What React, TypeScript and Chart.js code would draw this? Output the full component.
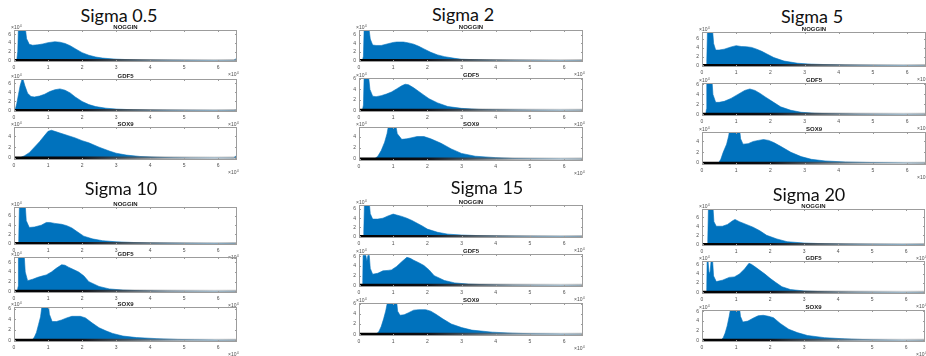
import { useEffect, useRef } from "react";
import { Chart, registerables } from "chart.js";

Chart.register(...registerables);

// Intensity axis runs over the full 16-bit range (x 10^4)
const X_MAX = 6.5535;
const Y_MIN = -0.35;
const X_TICKS = [0, 1, 2, 3, 4, 5, 6];
const Y_TICKS = [0, 2, 4, 6];
const GENES = ["NOGGIN", "GDF5", "SOX9"];
const SIGMAS = ["0.5", "2", "5", "10", "15", "20"];

// Histogram outlines, [intensity x10^4, count x10^4]
const NOGGIN_S05 = [[0, 0], [0.08, 0], [0.11, 2], [0.13, 7.6], [0.33, 7.6], [0.37, 5], [0.45, 3.7], [0.55, 3.5], [0.7, 3.6], [0.85, 3.8], [1.0, 4.1], [1.2, 4.3], [1.35, 4.2], [1.5, 3.9], [1.65, 3.4], [1.8, 2.7], [2.0, 1.8], [2.2, 1.2], [2.4, 0.8], [2.6, 0.55], [3.0, 0.3], [3.5, 0.15], [4.0, 0.08], [5.0, 0.03], [6.45, 0.02], [6.5, 0.3], [6.55, 0.35]];
const GDF5_S05 = [[0, 0], [0.03, 0], [0.08, 1.5], [0.13, 3.5], [0.18, 5.5], [0.23, 6.8], [0.27, 6.8], [0.32, 5.5], [0.4, 3.8], [0.5, 3.1], [0.6, 3.0], [0.75, 3.2], [0.9, 3.6], [1.05, 4.2], [1.2, 4.6], [1.35, 4.8], [1.5, 4.5], [1.65, 3.9], [1.8, 3.0], [2.0, 2.0], [2.2, 1.3], [2.4, 0.85], [2.7, 0.5], [3.0, 0.3], [3.5, 0.15], [4.0, 0.07], [5.0, 0.03], [6.45, 0.02], [6.55, 0.15]];
const SOX9_S05 = [[0, 0], [0.15, 0], [0.3, 0.4], [0.45, 1.0], [0.6, 2.0], [0.75, 3.0], [0.88, 4.0], [1.0, 4.9], [1.1, 5.1], [1.2, 4.9], [1.35, 4.6], [1.6, 4.1], [1.8, 3.7], [2.0, 3.2], [2.2, 2.8], [2.5, 2.0], [2.8, 1.3], [3.0, 0.9], [3.3, 0.55], [3.7, 0.3], [4.2, 0.15], [4.7, 0.06], [5.2, 0.03], [6.45, 0.03], [6.55, 0.5]];

const NOGGIN_S2 = [[0, 0], [0.1, 0], [0.13, 1], [0.15, 7.5], [0.29, 7.5], [0.33, 5], [0.4, 3.6], [0.5, 3.5], [0.65, 3.5], [0.85, 3.9], [1.0, 4.2], [1.1, 4.3], [1.3, 4.3], [1.45, 4.1], [1.6, 3.8], [1.75, 3.3], [1.9, 2.7], [2.1, 1.9], [2.3, 1.3], [2.5, 0.9], [2.8, 0.5], [3.0, 0.3], [3.5, 0.15], [4.0, 0.06], [5.0, 0.02], [6.55, 0.01]];
const GDF5_S2 = [[0, 0], [0.1, 0], [0.13, 1], [0.15, 6.5], [0.28, 6.5], [0.32, 4], [0.4, 2.7], [0.5, 2.6], [0.65, 2.8], [0.8, 3.1], [0.95, 3.5], [1.1, 4.1], [1.25, 4.7], [1.35, 5.0], [1.45, 4.9], [1.6, 4.3], [1.75, 3.6], [1.9, 2.9], [2.05, 2.2], [2.3, 1.4], [2.6, 0.7], [3.0, 0.35], [3.5, 0.15], [4.0, 0.06], [5.0, 0.02], [6.55, 0.01]];
const SOX9_S2 = [[0, 0], [0.45, 0], [0.55, 0.5], [0.65, 1.5], [0.75, 3.0], [0.82, 4.5], [0.87, 6.2], [1.07, 6.2], [1.12, 4.5], [1.25, 3.5], [1.4, 3.6], [1.55, 3.8], [1.7, 4.0], [1.9, 4.0], [2.1, 3.6], [2.4, 2.8], [2.7, 1.8], [3.0, 1.0], [3.4, 0.5], [4.0, 0.25], [4.5, 0.1], [5.0, 0.05], [6.0, 0.02], [6.55, 0.01]];

const NOGGIN_S5 = [[0, 0], [0.12, 0], [0.14, 1], [0.16, 8], [0.31, 8], [0.34, 5], [0.4, 3.5], [0.5, 3.5], [0.65, 3.7], [0.85, 4.2], [1.0, 4.5], [1.15, 4.3], [1.3, 4.25], [1.45, 4.1], [1.6, 3.7], [1.75, 3.2], [1.9, 2.6], [2.1, 1.8], [2.4, 1.0], [2.8, 0.5], [3.2, 0.3], [3.6, 0.2], [4.2, 0.1], [5.0, 0.03], [6.55, 0.01]];
const GDF5_S5 = [[0, 0], [0.11, 0], [0.13, 1], [0.14, 7], [0.29, 7], [0.32, 4], [0.4, 2.4], [0.5, 2.4], [0.65, 2.6], [0.85, 3.2], [1.05, 4.0], [1.25, 4.8], [1.4, 5.1], [1.55, 4.8], [1.7, 4.2], [1.85, 3.5], [2.05, 2.6], [2.3, 1.5], [2.6, 0.8], [2.9, 0.4], [3.3, 0.2], [3.8, 0.1], [4.5, 0.03], [6.55, 0.01]];
const SOX9_S5 = [[0, 0], [0.48, 0], [0.55, 0.7], [0.62, 2.0], [0.72, 3.5], [0.78, 5], [0.81, 6.2], [1.1, 6.2], [1.13, 4.5], [1.2, 3.5], [1.35, 3.6], [1.5, 4.0], [1.65, 4.2], [1.8, 4.35], [1.95, 4.2], [2.1, 3.8], [2.3, 3.1], [2.6, 2.0], [2.9, 1.2], [3.2, 0.7], [3.6, 0.4], [4.2, 0.2], [5.0, 0.1], [6.0, 0.03], [6.55, 0.01]];

const NOGGIN_S10 = [[0, 0], [0.12, 0], [0.14, 1], [0.16, 8.5], [0.33, 8.5], [0.36, 5], [0.45, 3.5], [0.6, 3.6], [0.8, 4.0], [0.95, 4.6], [1.05, 4.6], [1.2, 4.4], [1.4, 4.2], [1.55, 3.9], [1.7, 3.4], [1.85, 2.6], [2.05, 1.6], [2.3, 1.0], [2.6, 0.6], [3.0, 0.35], [3.5, 0.2], [4.0, 0.1], [4.5, 0.07], [5.2, 0.03], [6.55, 0.01]];
const GDF5_S10 = [[0, 0], [0.1, 0], [0.12, 1], [0.13, 7.5], [0.3, 7.5], [0.33, 4], [0.4, 2.2], [0.55, 2.5], [0.7, 2.9], [0.85, 3.2], [0.95, 3.4], [1.1, 4.0], [1.25, 4.8], [1.4, 5.5], [1.5, 5.4], [1.6, 5.0], [1.75, 4.5], [1.9, 4.0], [2.05, 3.2], [2.2, 2.0], [2.5, 1.0], [2.8, 0.5], [3.2, 0.25], [3.8, 0.1], [4.5, 0.03], [6.55, 0.01]];
const SOX9_S10 = [[0, 0], [0.53, 0], [0.6, 0.6], [0.66, 1.5], [0.72, 3.0], [0.78, 4.5], [0.83, 7], [1.01, 7], [1.04, 5], [1.12, 3.6], [1.25, 3.6], [1.4, 3.9], [1.55, 4.3], [1.7, 4.6], [1.95, 4.6], [2.1, 4.3], [2.3, 3.3], [2.5, 2.4], [2.7, 1.8], [2.9, 1.3], [3.2, 0.8], [3.6, 0.5], [4.2, 0.3], [4.8, 0.15], [5.3, 0.08], [6.0, 0.02], [6.55, 0.01]];

const NOGGIN_S15 = [[0, 0], [0.12, 0], [0.14, 1], [0.16, 7.5], [0.3, 7.5], [0.33, 5], [0.4, 3.8], [0.55, 3.8], [0.7, 4.0], [0.85, 4.5], [1.0, 4.9], [1.1, 4.7], [1.25, 4.4], [1.4, 4.0], [1.55, 3.5], [1.7, 2.9], [1.85, 2.3], [2.0, 1.6], [2.3, 0.9], [2.6, 0.5], [3.0, 0.3], [3.6, 0.15], [4.2, 0.08], [5.0, 0.03], [6.55, 0.01]];
const GDF5_S15 = [[0, 0], [0.09, 0], [0.11, 1], [0.12, 6.2], [0.2, 6.2], [0.23, 5.0], [0.26, 6.2], [0.3, 6.2], [0.33, 3.5], [0.4, 2.3], [0.55, 2.5], [0.7, 3.0], [0.85, 3.1], [0.95, 3.2], [1.1, 3.9], [1.25, 4.9], [1.4, 5.8], [1.5, 5.6], [1.6, 5.2], [1.75, 4.7], [1.9, 4.1], [2.05, 3.2], [2.2, 2.0], [2.5, 1.0], [2.8, 0.5], [3.2, 0.25], [3.8, 0.1], [4.5, 0.03], [6.55, 0.01]];
const SOX9_S15 = [[0, 0], [0.5, 0], [0.58, 0.5], [0.65, 1.5], [0.72, 3.0], [0.78, 4.5], [0.84, 6.5], [1.1, 6.5], [1.13, 4.5], [1.2, 3.7], [1.32, 3.8], [1.45, 4.2], [1.6, 4.7], [1.75, 4.8], [1.95, 4.8], [2.1, 4.5], [2.25, 3.9], [2.45, 3.0], [2.7, 2.0], [3.0, 1.3], [3.3, 0.8], [3.9, 0.4], [4.5, 0.2], [5.0, 0.1], [6.0, 0.03], [6.55, 0.01]];

const NOGGIN_S20 = [[0, 0], [0.15, 0], [0.17, 1], [0.19, 8.5], [0.32, 8.5], [0.35, 5], [0.42, 4.0], [0.6, 4.0], [0.75, 4.4], [0.9, 5.2], [0.97, 5.5], [1.1, 5.0], [1.3, 4.4], [1.5, 3.8], [1.7, 3.0], [1.9, 2.0], [2.2, 1.2], [2.5, 0.6], [3.0, 0.3], [3.6, 0.15], [4.2, 0.07], [5.0, 0.03], [6.55, 0.01]];
const GDF5_S20 = [[0, 0], [0.12, 0], [0.14, 1], [0.15, 6.5], [0.18, 6.5], [0.21, 4.0], [0.24, 4.5], [0.27, 7], [0.31, 7], [0.34, 3.5], [0.42, 2.3], [0.6, 2.6], [0.8, 3.2], [0.95, 3.3], [1.1, 3.9], [1.25, 5.0], [1.38, 6.2], [1.45, 6.0], [1.55, 5.5], [1.7, 4.7], [1.85, 3.9], [2.0, 3.0], [2.15, 2.2], [2.35, 1.2], [2.6, 0.6], [3.0, 0.3], [3.6, 0.12], [4.3, 0.04], [6.55, 0.01]];
const SOX9_S20 = [[0, 0], [0.55, 0], [0.62, 0.5], [0.68, 1.5], [0.74, 3.0], [0.8, 5.0], [0.85, 7], [1.1, 7], [1.13, 5], [1.2, 3.8], [1.35, 4.0], [1.5, 4.6], [1.65, 5.1], [1.8, 5.2], [1.95, 5.0], [2.1, 4.7], [2.3, 3.5], [2.55, 2.3], [2.8, 1.6], [3.1, 1.0], [3.6, 0.55], [4.2, 0.3], [5.0, 0.1], [6.0, 0.03], [6.55, 0.01]];

// Upper y limit of each subplot (x10^4), per sigma: NOGGIN, GDF5, SOX9
const Y_TOP_S05 = [7.0, 7.0, 5.7];
const Y_TOP_S2 = [7.1, 6.2, 5.7];
const Y_TOP_S5 = [7.6, 6.3, 5.75];
const Y_TOP_S10 = [8.0, 7.1, 6.4];
const Y_TOP_S15 = [6.9, 6.5, 6.1];
const Y_TOP_S20 = [7.8, 6.7, 6.3];

const SERIES = [
  [NOGGIN_S05, GDF5_S05, SOX9_S05],
  [NOGGIN_S2, GDF5_S2, SOX9_S2],
  [NOGGIN_S5, GDF5_S5, SOX9_S5],
  [NOGGIN_S10, GDF5_S10, SOX9_S10],
  [NOGGIN_S15, GDF5_S15, SOX9_S15],
  [NOGGIN_S20, GDF5_S20, SOX9_S20],
];
const Y_TOPS = [Y_TOP_S05, Y_TOP_S2, Y_TOP_S5, Y_TOP_S10, Y_TOP_S15, Y_TOP_S20];

// Page layout: plot boxes (left, right, [top, bottom] per row) and heading placement
const LAYOUT = [
  { left: 14, right: 237, boxes: [[30, 62], [79, 112], [127, 160]], cx: 119, ty: 6 },
  { left: 359, right: 583, boxes: [[30, 62], [78, 112], [127, 161]], cx: 463, ty: 5 },
  { left: 702, right: 926, boxes: [[32, 67], [83, 116], [132, 165]], cx: 812, ty: 7 },
  { left: 14, right: 237, boxes: [[207, 245], [257, 293], [307, 342]], cx: 121, ty: 179 },
  { left: 359, right: 583, boxes: [[205, 238], [254, 287], [303, 336]], cx: 487, ty: 178 },
  { left: 702, right: 925, boxes: [[209, 246], [261, 294], [310, 342]], cx: 809, ty: 185 },
];

const PAD = { left: 14, top: 9, right: 6, bottom: 17 };
const BLUE = "#0072bd";
const AXIS_GREY = "#9c9c9c";
const LABEL_GREY = "#505050";
const SMALL_FONT = "5px 'Liberation Sans', Arial, sans-serif";
const SUP_FONT = "3.5px 'Liberation Sans', Arial, sans-serif";

// "x10" with a raised exponent, anchored at its left edge
function drawExponent(ctx: CanvasRenderingContext2D, x: number, baseline: number) {
  ctx.textAlign = "left";
  ctx.textBaseline = "alphabetic";
  ctx.font = SMALL_FONT;
  const base = "\u00d710";
  ctx.fillText(base, x, baseline);
  const w = ctx.measureText(base).width;
  ctx.font = SUP_FONT;
  ctx.fillText("4", x + w + 0.3, baseline - 2);
  ctx.font = SMALL_FONT;
}

function axesPlugin(gene: string) {
  return {
    id: "matlabAxes",
    afterDraw(chart: any) {
      const { ctx, chartArea, scales } = chart;
      const { left, right, top, bottom } = chartArea;
      const xs = scales.x;
      const ys = scales.y;
      ctx.save();
      // box
      ctx.strokeStyle = AXIS_GREY;
      ctx.lineWidth = 1;
      ctx.strokeRect(left + 0.5, top + 0.5, right - left - 1, bottom - top - 1);
      // inward tick marks
      ctx.beginPath();
      X_TICKS.forEach((v) => {
        const px = Math.round(xs.getPixelForValue(v)) + 0.5;
        ctx.moveTo(px, bottom);
        ctx.lineTo(px, bottom - 2);
        ctx.moveTo(px, top);
        ctx.lineTo(px, top + 2);
      });
      Y_TICKS.filter((v) => v <= ys.max).forEach((v) => {
        const py = Math.round(ys.getPixelForValue(v)) + 0.5;
        ctx.moveTo(left, py);
        ctx.lineTo(left + 2, py);
        ctx.moveTo(right, py);
        ctx.lineTo(right - 2, py);
      });
      ctx.stroke();
      // tick labels
      ctx.fillStyle = LABEL_GREY;
      ctx.font = SMALL_FONT;
      ctx.textAlign = "center";
      ctx.textBaseline = "top";
      X_TICKS.forEach((v) => {
        ctx.fillText(String(v), xs.getPixelForValue(v), bottom + 3);
      });
      ctx.textAlign = "right";
      ctx.textBaseline = "middle";
      Y_TICKS.filter((v) => v <= ys.max).forEach((v) => {
        ctx.fillText(String(v), left - 3, ys.getPixelForValue(v));
      });
      // exponent labels
      drawExponent(ctx, left - 3, top - 1);
      drawExponent(ctx, right - 9, bottom + 14);
      // subplot title
      ctx.fillStyle = "#1a1a1a";
      ctx.font = "bold 6px 'Liberation Sans', Arial, sans-serif";
      ctx.textAlign = "center";
      ctx.textBaseline = "alphabetic";
      ctx.fillText(gene, (left + right) / 2, top - 1.5);
      ctx.restore();
    },
  };
}

function Histogram(props: { gene: string; points: number[][]; yMax: number; left: number; right: number; top: number; bottom: number }) {
  const ref = useRef<HTMLCanvasElement>(null);
  const { gene, points, yMax, left, right, top, bottom } = props;
  const width = right - left + PAD.left + PAD.right;
  const height = bottom - top + PAD.top + PAD.bottom;

  useEffect(() => {
    const chart = new Chart(ref.current as HTMLCanvasElement, {
      type: "line",
      data: {
        datasets: [
          {
            // dense low-count bins along the baseline
            data: [
              { x: 0, y: -0.05 },
              { x: X_MAX, y: -0.05 },
            ],
            borderWidth: 3.5,
            borderColor: (c: any) => {
              const area = c.chart.chartArea;
              if (!area) return "#000";
              const g = c.chart.ctx.createLinearGradient(area.left, 0, area.right, 0);
              g.addColorStop(0, "rgba(0,0,0,1)");
              g.addColorStop(0.3, "rgba(15,15,20,1)");
              g.addColorStop(0.5, "rgba(70,75,80,0.85)");
              g.addColorStop(0.7, "rgba(130,135,140,0.65)");
              g.addColorStop(0.9, "rgba(175,175,175,0.5)");
              g.addColorStop(1, "rgba(150,150,150,0.6)");
              return g;
            },
            pointRadius: 0,
            fill: false,
            order: 0,
          },
          {
            data: points.map(([x, y]) => ({ x, y })),
            borderColor: BLUE,
            backgroundColor: BLUE,
            borderWidth: 0.6,
            pointRadius: 0,
            tension: 0,
            fill: "origin",
            order: 1,
          },
        ],
      },
      options: {
        animation: false,
        responsive: false,
        events: [],
        layout: { padding: PAD },
        plugins: { legend: { display: false }, tooltip: { enabled: false }, title: { display: false } },
        scales: {
          x: { type: "linear", min: 0, max: X_MAX, display: false },
          y: { type: "linear", min: Y_MIN, max: yMax, display: false },
        },
      },
      plugins: [axesPlugin(gene)],
    } as any);
    return () => chart.destroy();
  }, []);

  return (
    <canvas
      ref={ref}
      width={width}
      height={height}
      style={{ position: "absolute", left: left - PAD.left, top: top - PAD.top, width, height }}
    />
  );
}

export default function App() {
  return (
    <div
      style={{
        position: "absolute",
        left: 0,
        top: 0,
        width: 926,
        height: 356,
        overflow: "hidden",
        background: "#ffffff",
      }}
    >
      {LAYOUT.map((panel, p) => (
        <div key={p}>
          <div
            style={{
              position: "absolute",
              left: panel.cx,
              top: panel.ty,
              transform: "translateX(-50%)",
              font: "18px Lato, 'Open Sans', sans-serif",
              lineHeight: "18px",
              color: "#111",
              whiteSpace: "nowrap",
            }}
          >
            {"Sigma " + SIGMAS[p]}
          </div>
          {GENES.map((gene, g) => (
            <Histogram
              key={gene}
              gene={gene}
              points={SERIES[p][g]}
              yMax={Y_TOPS[p][g]}
              left={panel.left}
              right={panel.right}
              top={panel.boxes[g][0]}
              bottom={panel.boxes[g][1]}
            />
          ))}
        </div>
      ))}
    </div>
  );
}
